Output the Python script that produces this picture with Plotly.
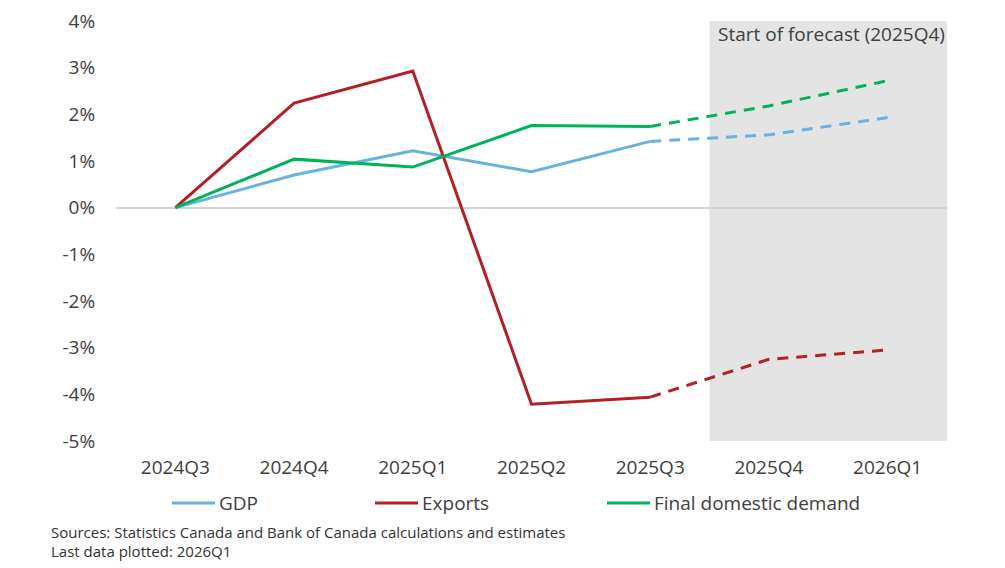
import plotly.graph_objects as go

quarters = ["2024Q3", "2024Q4", "2025Q1", "2025Q2", "2025Q3", "2025Q4", "2026Q1"]
gdp = [0.0, 0.70, 1.22, 0.77, 1.42, 1.56, 1.93]
exports = [0.0, 2.24, 2.93, -4.21, -4.06, -3.25, -3.05]
fdd = [0.0, 1.04, 0.87, 1.76, 1.74, 2.18, 2.72]
y_ticks = [4, 3, 2, 1, 0, -1, -2, -3, -4, -5]
y_labels = [f"{v}%" for v in y_ticks]
series_names = ["GDP", "Exports", "Final domestic demand"]
colors = ["#67B3DD", "#B41F24", "#00B35A"]
last_actual = 4  # index of 2025Q3
forecast_start = "2025Q4"

fig = go.Figure()
for name, vals, col in zip(series_names, [gdp, exports, fdd], colors):
    fig.add_trace(go.Scatter(x=quarters[:last_actual + 1], y=vals[:last_actual + 1],
                             mode="lines", line=dict(color=col, width=3),
                             name=name, showlegend=False))
    fig.add_trace(go.Scatter(x=quarters[last_actual:], y=vals[last_actual:],
                             mode="lines", line=dict(color=col, width=3, dash="11px,8px"),
                             name=name + " (forecast)", showlegend=False))

# forecast shading
fig.add_shape(type="rect", xref="x", yref="paper", x0=last_actual + 0.5, x1=len(quarters) - 0.5,
              y0=0, y1=1, fillcolor="#E4E4E4", line=dict(width=0), layer="below")
fig.add_annotation(xref="x", yref="paper", x=len(quarters) - 0.5, y=1, xanchor="right", yanchor="top",
                   text=f"Start of forecast ({forecast_start})", showarrow=False, xshift=0, yshift=2,
                   font=dict(family="Open Sans", size=19, color="#404040"))

# page offset (body margin) compensation
OFF = 8
W, H = 1005 - OFF, 568 - OFF
l, r, t, b = 116 - OFF, 58, 21 - OFF, 127
pw, ph = W - l - r, H - t - b
def px(xp):
    return (xp - OFF - l) / pw
def py(yp):
    return (H - b - (yp - OFF)) / ph

# manual legend
legend_x = [172, 375, 607]
for name, col, lx in zip(series_names, colors, legend_x):
    fig.add_shape(type="line", xref="paper", yref="paper", x0=px(lx), x1=px(lx + 43),
                  y0=py(503), y1=py(503), line=dict(color=col, width=3))
    fig.add_annotation(xref="paper", yref="paper", x=px(lx + 45), y=py(503), xanchor="left",
                       yanchor="middle", text=name, showarrow=False,
                       font=dict(family="Open Sans", size=19, color="#404040"))

fig.add_annotation(xref="paper", yref="paper", x=px(49), y=py(532), xanchor="left", yanchor="middle",
                   text="Sources: Statistics Canada and Bank of Canada calculations and estimates",
                   showarrow=False, font=dict(family="Open Sans", size=15, color="#333333"))
fig.add_annotation(xref="paper", yref="paper", x=px(49), y=py(551), xanchor="left", yanchor="middle",
                   text="Last data plotted: 2026Q1",
                   showarrow=False, font=dict(family="Open Sans", size=15, color="#333333"))

fig.update_layout(
    width=W, height=H,
    margin=dict(l=l, r=r, t=t, b=b, autoexpand=False),
    paper_bgcolor="white", plot_bgcolor="white",
    showlegend=False,
    font=dict(family="Open Sans", size=19, color="#404040"),
    xaxis=dict(type="category", range=[-0.5, len(quarters) - 0.5], showgrid=False, automargin=False,
               showline=False, zeroline=False, ticks="outside", ticklen=9, tickcolor="rgba(0,0,0,0)",
               tickfont=dict(family="Open Sans", size=19, color="#404040")),
    yaxis=dict(range=[-5, 4.0001], tickvals=y_ticks, ticktext=y_labels, showgrid=False, showline=False,
               automargin=False,
               zeroline=True, zerolinecolor="#D4D4D4", zerolinewidth=2,
               ticks="outside", ticklen=16, tickcolor="rgba(0,0,0,0)", ticklabeloverflow="allow",
               tickfont=dict(family="Open Sans", size=19, color="#404040")),
)

fig.write_html("out.html")
